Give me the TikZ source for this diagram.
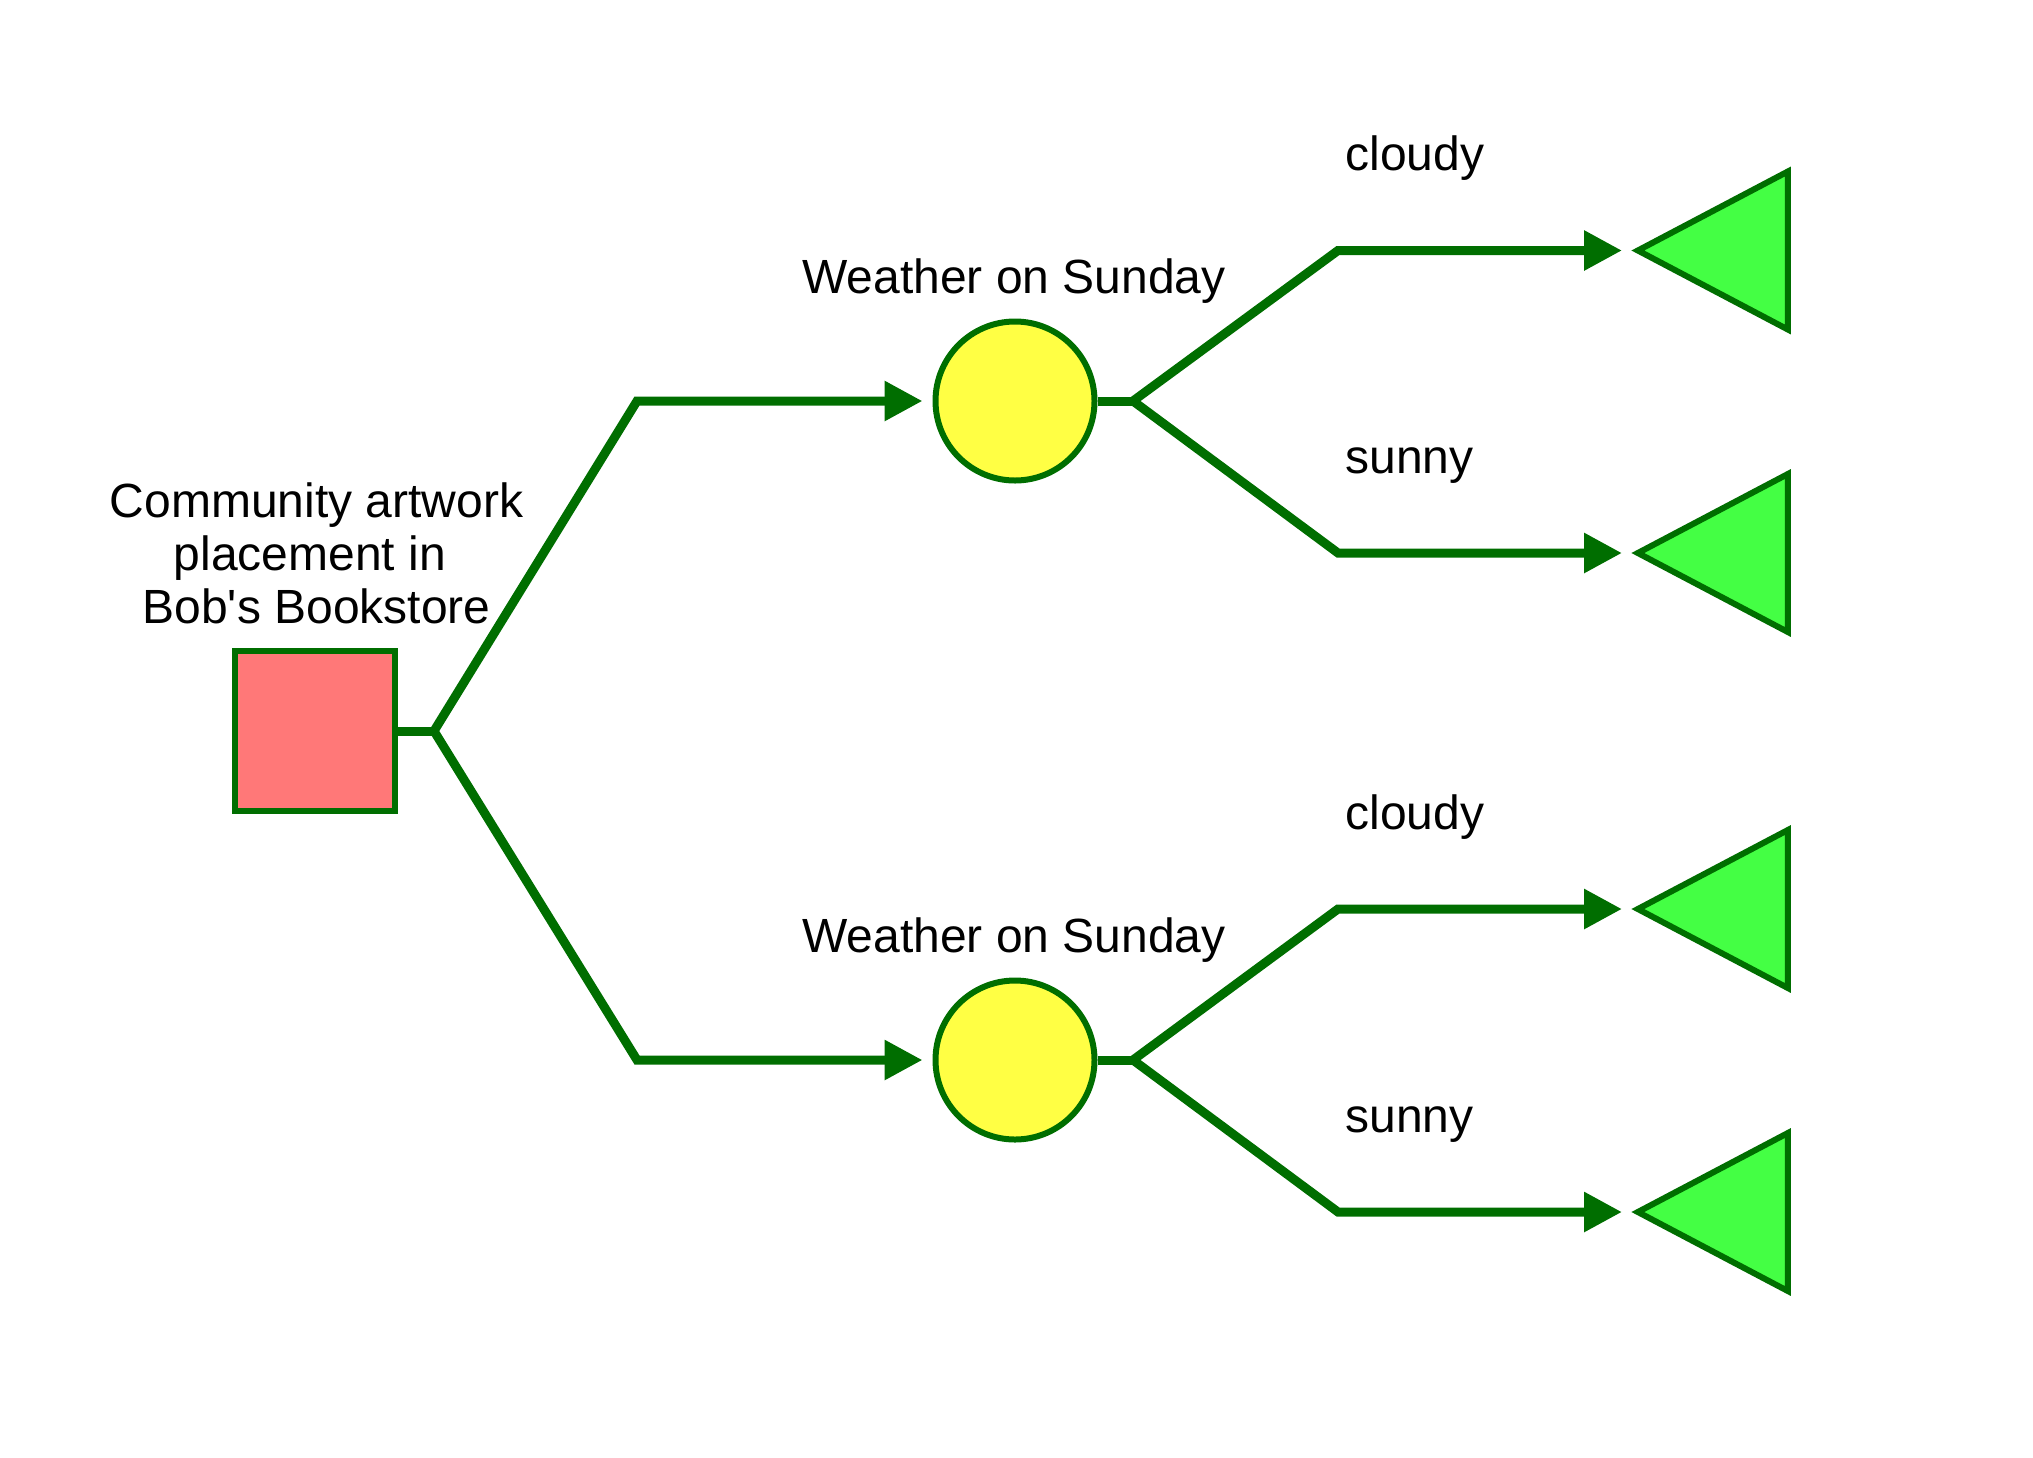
\documentclass[tikz,border=0pt]{standalone}
\usepackage{fontspec}
\setmainfont{Liberation Sans}[Ligatures=TeXOff]
\usetikzlibrary{arrows.meta,shapes.geometric}
\definecolor{edge}{RGB}{0,110,0}
\definecolor{sqfill}{RGB}{255,120,120}
\definecolor{cfill}{RGB}{255,255,68}
\definecolor{tfill}{RGB}{68,255,68}
\begin{document}
\begin{tikzpicture}[x=0.5pt,y=-0.5pt,
  decision/.style={draw=edge,fill=sqfill,line width=3pt,minimum size=80pt,inner sep=0pt},
  chance/.style={circle,draw=edge,fill=cfill,line width=3pt,minimum size=79.5pt,inner sep=0pt},
  endnode/.style={isosceles triangle,isosceles triangle stretches,shape border rotate=180,draw=edge,fill=tfill,line width=3pt,minimum width=79pt,minimum height=75pt,inner sep=0pt},
  conn/.style={draw=edge,line width=4.5pt},
  arr/.style={conn,-{Triangle[length=19pt,width=19pt]}},
  lbl/.style={font=\fontsize{24pt}{26.5pt}\selectfont,inner sep=0pt}
]
\useasboundingbox (0,0) rectangle (2033,1457);
% nodes
\node[decision] (d) at (315,731) {};
\node[chance] (c1) at (1015,401) {};
\node[chance] (c2) at (1015,1060) {};
\node[endnode,anchor=apex] (t1) at (1630,250.5) {};
\node[endnode,anchor=apex] (t2) at (1630,553) {};
\node[endnode,anchor=apex] (t3) at (1630,909) {};
\node[endnode,anchor=apex] (t4) at (1630,1212) {};
% branch points and corners
\coordinate (b0) at (434,731);
\coordinate (k1) at (637,401);
\coordinate (k2) at (637,1060);
\coordinate (b1) at (1133,401);
\coordinate (b2) at (1133,1060);
\coordinate (k11) at (1338,250.5);
\coordinate (k12) at (1338,553);
\coordinate (k21) at (1338,909);
\coordinate (k22) at (1338,1212);
% connectors
\draw[conn] (d) -- (b0);
\draw[arr,shorten >=5pt] (b0) -- (k1) -- (c1);
\draw[arr,shorten >=5pt] (b0) -- (k2) -- (c2);
\draw[conn] (c1) -- (b1);
\draw[conn] (c2) -- (b2);
\draw[arr,shorten >=4pt] (b1) -- (k11) -- (t1.apex);
\draw[arr,shorten >=4pt] (b1) -- (k12) -- (t2.apex);
\draw[arr,shorten >=4pt] (b2) -- (k21) -- (t3.apex);
\draw[arr,shorten >=4pt] (b2) -- (k22) -- (t4.apex);
% labels
\node[lbl,align=center,anchor=base] (dl) at (316.5,623) {Community artwork\\placement in\kern6.67pt\mbox{}\\Bob's Bookstore};
\node[lbl,anchor=base] (w1) at (1014,293) {Weather on Sunday};
\node[lbl,anchor=base] (w2) at (1014,952) {Weather on Sunday};
\node[lbl,anchor=base west] (l11) at (1345,170) {cloudy};
\node[lbl,anchor=base west] (l12) at (1345,473) {sunny};
\node[lbl,anchor=base west] (l21) at (1345,829) {cloudy};
\node[lbl,anchor=base west] (l22) at (1345,1132) {sunny};
\end{tikzpicture}
\end{document}
